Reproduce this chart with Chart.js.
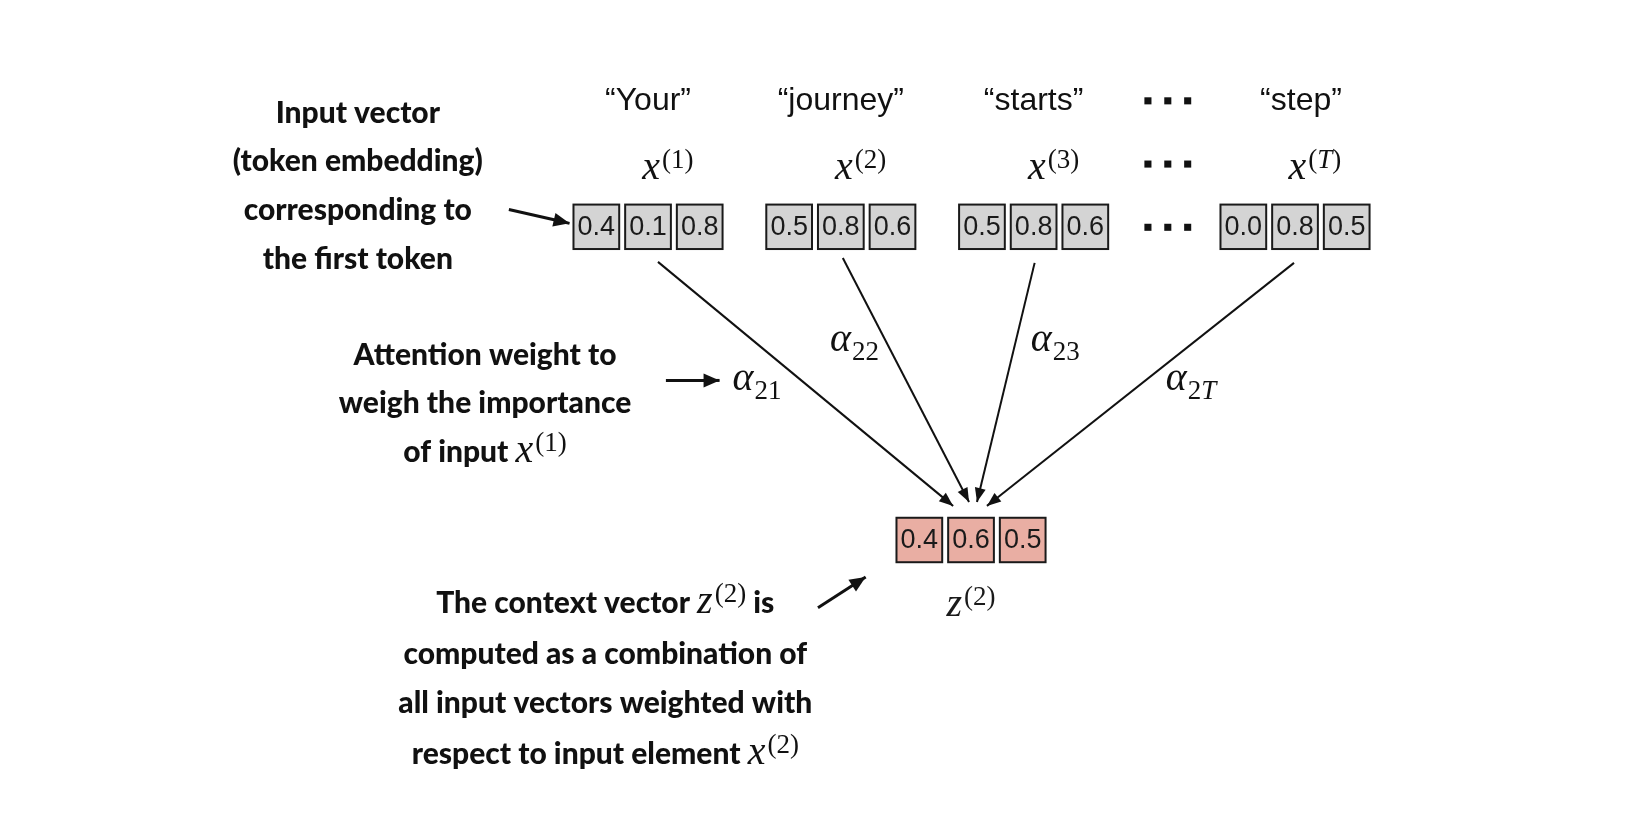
<!DOCTYPE html>
<html>
<head>
<meta charset="utf-8">
<title>Self-attention context vector</title>
<script src="https://cdn.jsdelivr.net/npm/chart.js@4.4.1/dist/chart.umd.min.js"></script>
<style>
  body { margin: 0; background: #fff; }
  #wrap { width: 1626px; height: 832px; }
</style>
</head>
<body>
<div id="wrap"><canvas id="diagram" width="1626" height="832"></canvas></div>
<script>
// data
const tokens = ["Your", "journey", "starts", "step"];
const tokenIndex = ["1", "2", "3", "T"];
const inputVectors = [
  [0.4, 0.1, 0.8],
  [0.5, 0.8, 0.6],
  [0.5, 0.8, 0.6],
  [0.0, 0.8, 0.5]
];
const contextVector = [0.4, 0.6, 0.5];
const weightLabels = ["21", "22", "23", "2T"];

// layout (in canvas units, mapped through the x / y scales)
const groupLeft = [572, 766, 960, 1223];
const rowTop = 202;
const contextLeft = 897;
const contextTop = 519;
const boxW = 46, boxH = 45, boxStep = 52;
const tokenBaseline = 106;
const symbolBaseline = 176;
const lineStarts = [[657, 260], [843, 256], [1036, 261], [1297, 261]];
const lineEnds = [[954, 507], [970, 503], [978, 503], [988, 507]];
const alphaPos = [[732, 390], [830, 350], [1032, 350], [1168, 390]];
const pointers = [
  [[507, 207], [568, 221]],
  [[665, 380], [719, 380]],
  [[818, 610], [866, 579]]
];
const dotRowsY = [97, 161, 225];
const dotsX = [1150, 1170, 1190];

const BOLD = "900 30px Lato";
const MATH = "italic 40px 'Liberation Serif'";
const SUP = "27px 'Liberation Serif'";
const SUP_IT = "italic 27px 'Liberation Serif'";

function supSegs(sym, idx) {
  const inner = idx === "T" ? { text: "T", font: SUP_IT, dy: -11 } : { text: idx, font: SUP, dy: -11 };
  return [
    { text: sym, font: MATH, dy: 0, gap: 2 },
    { text: "(", font: SUP, dy: -11 },
    inner,
    { text: ")", font: SUP, dy: -11 }
  ];
}

function alphaSegs(sub) {
  const segs = [{ text: "\u03b1", font: MATH, dy: 0, gap: 1 }];
  for (const ch of sub) {
    segs.push({ text: ch, font: ch === "T" ? SUP_IT : SUP, dy: 9 });
  }
  return segs;
}

function drawRich(ctx, segs, x, y, align) {
  let total = 0;
  for (const s of segs) {
    ctx.font = s.font;
    total += ctx.measureText(s.text).width + (s.gap || 0);
  }
  let cx = align === "left" ? x : x - total / 2;
  ctx.textBaseline = "alphabetic";
  ctx.textAlign = "left";
  for (const s of segs) {
    ctx.font = s.font;
    ctx.fillText(s.text, cx, y + s.dy);
    cx += ctx.measureText(s.text).width + (s.gap || 0);
  }
}

const notes = [
  { cx: 355, lines: [
    [{ text: "Input vector", font: BOLD, dy: 0 }],
    [{ text: "(token embedding)", font: BOLD, dy: 0 }],
    [{ text: "corresponding to", font: BOLD, dy: 0 }],
    [{ text: "the first token", font: BOLD, dy: 0 }]
  ], baselines: [119, 168, 218, 267] },
  { cx: 483, lines: [
    [{ text: "Attention weight to", font: BOLD, dy: 0 }],
    [{ text: "weigh the importance", font: BOLD, dy: 0 }],
    [{ text: "of input ", font: BOLD, dy: 0 }].concat(supSegs("x", "1"))
  ], baselines: [364, 413, 463] },
  { cx: 604, lines: [
    [{ text: "The context vector ", font: BOLD, dy: 0 }].concat(supSegs("z", "2"), [{ text: " is", font: BOLD, dy: 0 }]),
    [{ text: "computed as a combination of", font: BOLD, dy: 0 }],
    [{ text: "all input vectors weighted with", font: BOLD, dy: 0 }],
    [{ text: "respect to input element ", font: BOLD, dy: 0 }].concat(supSegs("x", "2"))
  ], baselines: [615, 667, 717, 768] }
];

const diagramPlugin = {
  id: "diagram",
  afterDatasetsDraw(chart) {
    const ctx = chart.ctx;
    const xs = chart.scales.x, ys = chart.scales.y;
    const px = v => xs.getPixelForValue(v);
    const py = v => ys.getPixelForValue(v);

    function drawBox(left, top, value, fill) {
      const x0 = px(left), y0 = py(top);
      const w = px(left + boxW) - x0, h = py(top + boxH) - y0;
      ctx.fillStyle = fill;
      ctx.fillRect(x0, y0, w, h);
      ctx.lineWidth = 2;
      ctx.strokeStyle = "#1a1a1a";
      ctx.strokeRect(x0, y0, w, h);
      ctx.fillStyle = "#1a1a1a";
      ctx.font = "27px 'Liberation Sans'";
      ctx.textAlign = "center";
      ctx.textBaseline = "middle";
      ctx.fillText(value.toFixed(1), x0 + w / 2, y0 + h / 2 + 1);
    }

    ctx.save();
    // input vectors
    inputVectors.forEach((vec, g) => {
      vec.forEach((v, k) => drawBox(groupLeft[g] + k * boxStep, rowTop, v, "#d4d4d4"));
      const center = groupLeft[g] + (boxStep * 2 + boxW) / 2;
      ctx.fillStyle = "#111";
      ctx.font = "32px 'Liberation Sans'";
      ctx.textAlign = "center";
      ctx.textBaseline = "alphabetic";
      ctx.fillText("\u201c" + tokens[g] + "\u201d", px(center + (g === 3 ? 6 : 0)), py(tokenBaseline));
      drawRich(ctx, supSegs("x", tokenIndex[g]), px(center + 20), py(symbolBaseline), "center");
    });
    // context vector
    contextVector.forEach((v, k) => drawBox(contextLeft + k * boxStep, contextTop, v, "#e9aea3"));
    drawRich(ctx, supSegs("z", "2"), px(contextLeft + (boxStep * 2 + boxW) / 2), py(618), "center");

    // attention weight labels
    ctx.fillStyle = "#111";
    weightLabels.forEach((w, i) => drawRich(ctx, alphaSegs(w), px(alphaPos[i][0]), py(alphaPos[i][1]), "left"));

    // annotations
    notes.forEach(n => n.lines.forEach((segs, i) => drawRich(ctx, segs, px(n.cx), py(n.baselines[i]), "center")));

    // arrowheads at the end of each line dataset
    chart.data.datasets.forEach((ds, i) => {
      if (!ds.head) return;
      const pts = chart.getDatasetMeta(i).data;
      const a = pts[pts.length - 2], b = pts[pts.length - 1];
      const ang = Math.atan2(b.y - a.y, b.x - a.x);
      const [len, half] = ds.head;
      ctx.fillStyle = "#111";
      ctx.beginPath();
      ctx.moveTo(b.x, b.y);
      ctx.lineTo(b.x - len * Math.cos(ang) + half * Math.sin(ang), b.y - len * Math.sin(ang) - half * Math.cos(ang));
      ctx.lineTo(b.x - len * Math.cos(ang) - half * Math.sin(ang), b.y - len * Math.sin(ang) + half * Math.cos(ang));
      ctx.closePath();
      ctx.fill();
    });
    ctx.restore();
  }
};

function shorten(p0, p1, d) {
  const dx = p1[0] - p0[0], dy = p1[1] - p0[1];
  const L = Math.hypot(dx, dy);
  return { x: p1[0] - dx / L * d, y: p1[1] - dy / L * d };
}

const datasets = [];
lineStarts.forEach((s, i) => {
  datasets.push({
    data: [{ x: s[0], y: s[1] }, shorten(s, lineEnds[i], 6), { x: lineEnds[i][0], y: lineEnds[i][1] }],
    showLine: true, borderColor: "#111", borderWidth: 2, pointRadius: 0,
    segment: { borderWidth: c => c.p0DataIndex === 1 ? 0 : 2 },
    head: [14, 5.5]
  });
});
pointers.forEach(p => {
  datasets.push({
    data: [{ x: p[0][0], y: p[0][1] }, shorten(p[0], p[1], 8), { x: p[1][0], y: p[1][1] }],
    showLine: true, borderColor: "#111", borderWidth: 3, pointRadius: 0,
    segment: { borderWidth: c => c.p0DataIndex === 1 ? 0 : 3 },
    head: [16, 7]
  });
});
datasets.push({
  data: dotRowsY.flatMap(y => dotsX.map(x => ({ x, y }))),
  showLine: false, pointStyle: "rect", pointRadius: 5,
  backgroundColor: "#111", borderWidth: 0
});

new Chart(document.getElementById("diagram"), {
  type: "scatter",
  data: { datasets },
  plugins: [diagramPlugin],
  options: {
    responsive: false,
    animation: false,
    layout: { padding: 0 },
    events: [],
    scales: {
      x: { type: "linear", min: 0, max: 1626, display: false },
      y: { type: "linear", min: 0, max: 832, reverse: true, display: false }
    },
    plugins: { legend: { display: false }, tooltip: { enabled: false } }
  }
});
</script>
</body>
</html>
